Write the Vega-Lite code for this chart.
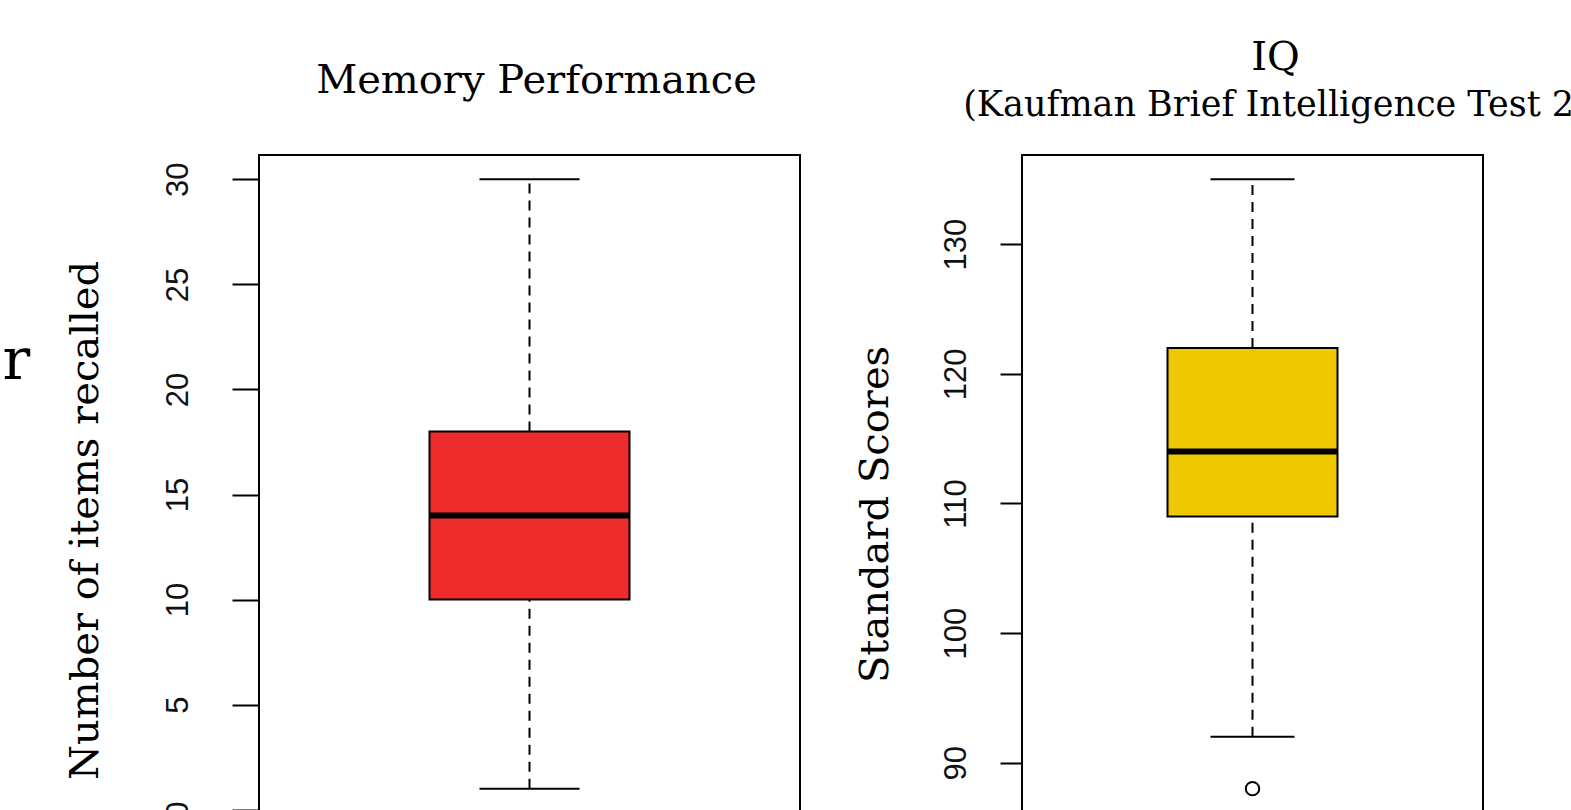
{
  "$schema": "https://vega.github.io/schema/vega-lite/v6.json",
  "background": "white",
  "padding": {"left": 2, "top": 37, "right": 0, "bottom": 0},
  "title": {"text": "r", "orient": "left", "anchor": "middle", "angle": 0, "fontSize": 58, "font": "DejaVu Serif", "fontWeight": "normal", "color": "black", "offset": 20, "dy": -95},
  "datasets": {
    "memory": [{"test": "Memory", "lower": 1, "q1": 10, "median": 14, "q3": 18, "upper": 30}],
    "iq": [{"test": "IQ", "lower": 92, "q1": 109, "median": 114, "q3": 122, "upper": 135}],
    "iqOut": [{"test": "IQ", "value": 88}]
  },
  "spacing": 52,
  "hconcat": [
    {
      "width": 541,
      "height": 658,
      "title": {"text": "Memory Performance", "fontSize": 40, "font": "DejaVu Serif", "fontWeight": "normal", "color": "black", "offset": 54, "dx": 7},
      "data": {"name": "memory"},
      "encoding": {"x": {"field": "test", "type": "nominal", "axis": null, "scale": {"paddingInner": 0, "paddingOuter": 0}}},
      "layer": [
        {"mark": {"type": "rule", "strokeDash": [10, 7], "strokeWidth": 2, "color": "black"},
         "encoding": {
           "y": {"field": "lower", "type": "quantitative", "scale": {"domain": [-0.16, 31.16], "nice": false, "zero": false},
                 "axis": {"title": "Number of items recalled", "titleFont": "DejaVu Serif", "titleFontSize": 40, "titleFontWeight": "normal", "titleColor": "black", "titlePadding": 57, "titleY": 365,
                          "values": [0, 5, 10, 15, 20, 25, 30], "labelAngle": -90, "labelAlign": "center", "labelBaseline": "alphabetic", "labelFont": "Liberation Sans", "labelFontSize": 31, "labelColor": "#111111", "labelPadding": 45,
                          "tickSize": 27, "tickWidth": 2, "tickColor": "black", "domain": false, "grid": false}},
           "y2": {"field": "q1"}}},
        {"mark": {"type": "rule", "strokeDash": [10, 7], "strokeWidth": 2, "color": "black"},
         "encoding": {"y": {"field": "q3", "type": "quantitative"}, "y2": {"field": "upper"}}},
        {"mark": {"type": "bar", "size": 200, "fill": "#EE2C2C", "stroke": "black", "strokeWidth": 2, "opacity": 1},
         "encoding": {"y": {"field": "q1", "type": "quantitative"}, "y2": {"field": "q3"}}},
        {"mark": {"type": "tick", "size": 200, "thickness": 6, "color": "black", "opacity": 1},
         "encoding": {"y": {"field": "median", "type": "quantitative"}}},
        {"mark": {"type": "tick", "size": 100, "thickness": 2, "color": "black", "opacity": 1},
         "encoding": {"y": {"field": "lower", "type": "quantitative"}}},
        {"mark": {"type": "tick", "size": 100, "thickness": 2, "color": "black", "opacity": 1},
         "encoding": {"y": {"field": "upper", "type": "quantitative"}}}
      ]
    },
    {
      "width": 461,
      "height": 658,
      "title": {"text": "IQ", "subtitle": "(Kaufman Brief Intelligence Test 2)", "fontSize": 40, "font": "DejaVu Serif", "fontWeight": "normal", "color": "black", "subtitleFont": "DejaVu Serif", "subtitleFontSize": 35, "subtitleColor": "black", "subtitlePadding": 10, "offset": 32, "dx": 23},
      "encoding": {"x": {"field": "test", "type": "nominal", "axis": null, "scale": {"paddingInner": 0, "paddingOuter": 0}}},
      "layer": [
        {"data": {"name": "iq"},
         "mark": {"type": "rule", "strokeDash": [10, 7], "strokeWidth": 2, "color": "black"},
         "encoding": {
           "y": {"field": "lower", "type": "quantitative", "scale": {"domain": [86.12, 136.88], "nice": false, "zero": false},
                 "axis": {"title": "Standard Scores", "titleFont": "DejaVu Serif", "titleFontSize": 40, "titleFontWeight": "normal", "titleColor": "black", "titlePadding": 45, "titleY": 359,
                          "values": [90, 100, 110, 120, 130], "labelAngle": -90, "labelAlign": "center", "labelBaseline": "alphabetic", "labelFont": "Liberation Sans", "labelFontSize": 31, "labelColor": "#111111", "labelPadding": 35,
                          "tickSize": 22, "tickWidth": 2, "tickColor": "black", "domain": false, "grid": false}},
           "y2": {"field": "q1"}}},
        {"data": {"name": "iq"},
         "mark": {"type": "rule", "strokeDash": [10, 7], "strokeWidth": 2, "color": "black"},
         "encoding": {"y": {"field": "q3", "type": "quantitative"}, "y2": {"field": "upper"}}},
        {"data": {"name": "iq"},
         "mark": {"type": "bar", "size": 170, "fill": "#EEC900", "stroke": "black", "strokeWidth": 2, "opacity": 1},
         "encoding": {"y": {"field": "q1", "type": "quantitative"}, "y2": {"field": "q3"}}},
        {"data": {"name": "iq"},
         "mark": {"type": "tick", "size": 170, "thickness": 6, "color": "black", "opacity": 1},
         "encoding": {"y": {"field": "median", "type": "quantitative"}}},
        {"data": {"name": "iq"},
         "mark": {"type": "tick", "size": 84, "thickness": 2, "color": "black", "opacity": 1},
         "encoding": {"y": {"field": "lower", "type": "quantitative"}}},
        {"data": {"name": "iq"},
         "mark": {"type": "tick", "size": 84, "thickness": 2, "color": "black", "opacity": 1},
         "encoding": {"y": {"field": "upper", "type": "quantitative"}}},
        {"data": {"name": "iqOut"},
         "mark": {"type": "point", "shape": "circle", "filled": false, "size": 180, "strokeWidth": 2, "color": "black", "opacity": 1},
         "encoding": {"y": {"field": "value", "type": "quantitative"}}}
      ]
    }
  ],
  "config": {
    "view": {"stroke": "black", "strokeWidth": 2},
    "title": {"anchor": "middle"}
  }
}
